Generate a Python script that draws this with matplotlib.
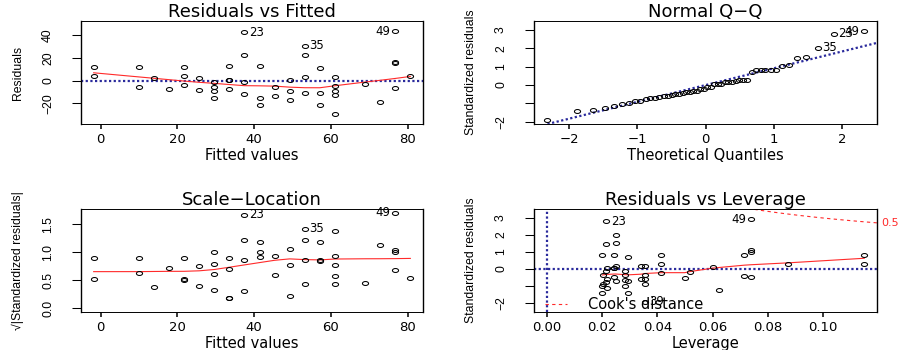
import numpy as np
import matplotlib
matplotlib.use("Agg")
import matplotlib.pyplot as plt
from matplotlib.path import Path
from statistics import NormalDist

# cars data: dist ~ speed, the four lm() diagnostic panels
speed = [4, 4, 7, 7, 8, 9, 10, 10, 10, 11, 11, 12, 12, 12, 12, 13, 13, 13, 13, 14, 14, 14, 14,
         15, 15, 15, 16, 16, 17, 17, 17, 18, 18, 18, 18, 19, 19, 19, 20, 20, 20, 20, 20, 22, 23,
         24, 24, 24, 24, 25]
dist = [2, 10, 4, 22, 16, 10, 18, 26, 34, 17, 28, 14, 20, 24, 28, 26, 34, 34, 46, 26, 36, 60, 80,
        20, 26, 54, 32, 40, 32, 40, 50, 42, 56, 76, 84, 36, 46, 68, 32, 48, 52, 56, 64, 66, 54,
        70, 92, 93, 120, 85]

titles = ["Residuals vs Fitted", "Normal Q\u2212Q", "Scale\u2212Location", "Residuals vs Leverage"]
fit_xticks = [0, 20, 40, 60, 80]
res_yticks = [-20, 0, 20, 40]
qq_xticks = [-2, -1, 0, 1, 2]
std_yticks = [-2, -1, 0, 1, 2, 3]
std_yticklabels = ["\u22122", "", "0", "1", "2", "3"]
sl_yticks = [0.0, 0.5, 1.0, 1.5]
sl_yticklabels = ["0.0", "0.5", "1.0", "1.5"]
lev_xticks = [0.0, 0.02, 0.04, 0.06, 0.08, 0.10]
lev_xticklabels = ["0.00", "0.02", "0.04", "0.06", "0.08", "0.10"]
cook_levels = [0.5, 1.0]
n_id = 3

BLUE = "#2a2a9c"
RED = "#ff2a2a"
H_FONT = "DejaVu Sans"
V_FONT = ["Liberation Sans Narrow", "Liberation Sans", "DejaVu Sans"]


def lowess(x, y, f=2/3, iters=3):
    # port of R's clowess (no delta shortcut)
    o = np.argsort(x, kind="stable")
    x = np.asarray(x, float)[o]
    y = np.asarray(y, float)[o]
    n = len(x)
    ns = max(2, min(n, int(f * n + 1e-7)))
    rw = np.ones(n)
    ys = np.zeros(n)
    for it in range(iters + 1):
        nleft, nright = 0, ns - 1
        for i in range(n):
            while nright < n - 1:
                if x[i] - x[nleft] <= x[nright + 1] - x[i]:
                    break
                nleft += 1
                nright += 1
            h = max(x[i] - x[nleft], x[nright] - x[i])
            w = np.zeros(n)
            j = nleft
            while j < n:
                r = abs(x[j] - x[i])
                if r <= 0.999 * h:
                    w[j] = (1.0 if r <= 0.001 * h else (1 - (r / h) ** 3) ** 3) * rw[j]
                elif x[j] > x[i]:
                    break
                j += 1
            sw = w.sum()
            if sw <= 0:
                ys[i] = y[i]
                continue
            w = w / sw
            if h > 0:
                a = np.sum(w * x)
                b = x[i] - a
                c = np.sum(w * (x - a) ** 2)
                if np.sqrt(c) > 0.001 * (x[-1] - x[0]):
                    w = w * (b / c * (x - a) + 1)
            ys[i] = np.sum(w * y)
        if it == iters:
            break
        res = np.abs(y - ys)
        cmad = 6 * np.median(res)
        if cmad < 1e-7 * res.mean():
            break
        rw = np.where(res <= 0.001 * cmad, 1.0,
                      np.where(res <= 0.999 * cmad, (1 - (res / cmad) ** 2) ** 2, 0.0))
    return x, ys


def rlim(lo, hi, f=0.04):
    d = (hi - lo) * f
    return lo - d, hi + d


# fit the model
xs = np.array(speed, float)
ys = np.array(dist, float)
n = len(xs)
p = 2
X = np.column_stack([np.ones(n), xs])
beta = np.linalg.lstsq(X, ys, rcond=None)[0]
fitted = X @ beta
resid = ys - fitted
sigma = np.sqrt(np.sum(resid ** 2) / (n - p))
hii = np.einsum("ij,jk,ik->i", X, np.linalg.inv(X.T @ X), X)
rs = resid / (sigma * np.sqrt(1 - hii))
cook = rs ** 2 * hii / ((1 - hii) * p)
sqrs = np.sqrt(np.abs(rs))

ppts = (np.arange(1, n + 1) - 0.5) / n
theo = np.array([NormalDist().inv_cdf(v) for v in ppts])
qx = np.empty(n)
qx[np.argsort(rs, kind="stable")] = theo

show_r = np.argsort(-np.abs(resid), kind="stable")[:n_id]
show_rs = np.argsort(-np.abs(rs), kind="stable")[:n_id]
show_cook = np.argsort(-cook, kind="stable")[:n_id]

# ellipse marker (the reference is stretched sideways)
circ = Path.unit_circle()
ell = Path(circ.vertices * np.array([1.55, 1.0]), circ.codes)

fig = plt.figure(figsize=(9.02, 3.5), dpi=100)
W, H = 902.0, 350.0
rects = [(81, 21, 342, 103), (534, 21, 343, 103), (81, 209, 342, 103), (534, 209, 343, 103)]
axes = [fig.add_axes([l / W, 1 - (t + h) / H, w / W, h / H]) for l, t, w, h in rects]


def setup(ax, title, xlabel, ylabel, xlim, ylim, xticks, yticks, xtl=None, ytl=None):
    ax.set_xlim(*xlim)
    ax.set_ylim(*ylim)
    ax.set_xticks(xticks)
    ax.set_yticks(yticks)
    ax.set_xticklabels(xtl if xtl is not None else [str(t).replace("-", "\u2212") for t in xticks],
                       fontsize=9.5, family=H_FONT)
    ax.set_yticklabels(ytl if ytl is not None else [str(t).replace("-", "\u2212") for t in yticks],
                       fontsize=8.8, family=V_FONT, rotation=90, va="center")
    ax.tick_params(axis="x", length=3.3, width=1.1, pad=3.2, direction="out")
    ax.tick_params(axis="y", length=6.2, width=0.75, pad=13.2, direction="out")
    for side in ["left", "right"]:
        ax.spines[side].set_linewidth(1.0)
    for side in ["top", "bottom"]:
        ax.spines[side].set_linewidth(0.7)
    ax.set_title(title, fontsize=13, family=H_FONT, pad=2.5)
    ax.text(0.5, -0.31, xlabel, transform=ax.transAxes, ha="center", va="center",
            fontsize=10.5, family=H_FONT)
    ax.text(-63 / 342, 0.5, ylabel, transform=ax.transAxes, ha="center", va="center",
            rotation=90, fontsize=8.8, family=V_FONT)


def points(ax, x, y):
    ax.plot(x, y, linestyle="none", marker=ell, markersize=4.4, markerfacecolor="none",
            markeredgecolor="black", markeredgewidth=0.75, zorder=3)


def label_points(ax, x, y, idx):
    mid = (x[idx].min() + x[idx].max()) / 2
    for i in idx:
        right = x[i] <= mid
        ax.annotate(str(i + 1), (x[i], y[i]), xytext=(3.4 if right else -3.4, 0),
                    textcoords="offset points", ha="left" if right else "right", va="center",
                    fontsize=8.5, family=H_FONT, annotation_clip=False, zorder=4)


def smooth(ax, x, y):
    sx, sy = lowess(x, y)
    ax.plot(sx, sy, color=RED, lw=0.8, zorder=2)


dotted = dict(color=BLUE, lw=1.6, linestyle=(0, (1, 1.1)), zorder=1)

# 1. Residuals vs Fitted
ax = axes[0]
fx = rlim(fitted.min(), fitted.max())
ry = rlim(*rlim(resid.min(), resid.max(), 0.08))
setup(ax, titles[0], "Fitted values", "Residuals", fx, ry, fit_xticks, res_yticks)
ax.axhline(0, **dotted)
points(ax, fitted, resid)
smooth(ax, fitted, resid)
label_points(ax, fitted, resid, show_r)

# 2. Normal Q-Q
ax = axes[1]
qy = [rs.min(), rs.max() + (rs.max() - rs.min()) * 0.075]
setup(ax, titles[1], "Theoretical Quantiles", "Standardized residuals",
      rlim(theo.min(), theo.max()), rlim(*qy), qq_xticks, std_yticks, ytl=std_yticklabels)
q1, q3 = np.quantile(rs, [0.25, 0.75])
z1, z3 = NormalDist().inv_cdf(0.25), NormalDist().inv_cdf(0.75)
slope = (q3 - q1) / (z3 - z1)
ax.axline((z1, q1), slope=slope, **dotted)
points(ax, qx, rs)
label_points(ax, qx, rs, show_rs)

# 3. Scale-Location
ax = axes[2]
setup(ax, titles[2], "Fitted values", "\u221a|Standardized residuals|", fx,
      rlim(0, sqrs.max()), fit_xticks, sl_yticks, ytl=sl_yticklabels)
points(ax, fitted, sqrs)
smooth(ax, fitted, sqrs)
label_points(ax, fitted, sqrs, show_rs)

# 4. Residuals vs Leverage
ax = axes[3]
lx = rlim(0, hii.max())
ly = rlim(*rlim(rs.min(), rs.max(), 0.08))
setup(ax, titles[3], "Leverage", "Standardized residuals", lx, ly, lev_xticks, std_yticks,
      xtl=lev_xticklabels, ytl=std_yticklabels)
ax.axhline(0, **dotted)
ax.axvline(0, **dotted)
points(ax, hii, rs)
smooth(ax, hii, rs)
hh = np.linspace(min(hii.min(), hii.max() / 100), lx[1], 101)
for crit in cook_levels:
    cl = np.sqrt(crit * p * (1 - hh) / hh)
    ax.plot(hh, cl, color=RED, lw=0.8, linestyle=(0, (3, 3)), zorder=2)
    ax.plot(hh, -cl, color=RED, lw=0.8, linestyle=(0, (3, 3)), zorder=2)
    yl = np.sqrt(crit * p * (1 - lx[1]) / lx[1])
    if ly[0] <= yl <= ly[1]:
        ax.annotate(str(crit), (1, yl), xycoords=("axes fraction", "data"), xytext=(3, 0),
                    textcoords="offset points", ha="left", va="center", fontsize=8,
                    family=H_FONT, color=RED, annotation_clip=False)
label_points(ax, hii, rs, show_cook)
ax.plot([], [], color=RED, lw=0.8, linestyle=(0, (3, 3)), label="Cook's distance")
leg = ax.legend(loc="lower left", bbox_to_anchor=(0.025, -0.03), frameon=False,
                borderpad=0.2, borderaxespad=0, handlelength=1.5, handletextpad=1.4,
                prop={"family": H_FONT, "size": 10.5})

fig.savefig("out.png", dpi=100)
